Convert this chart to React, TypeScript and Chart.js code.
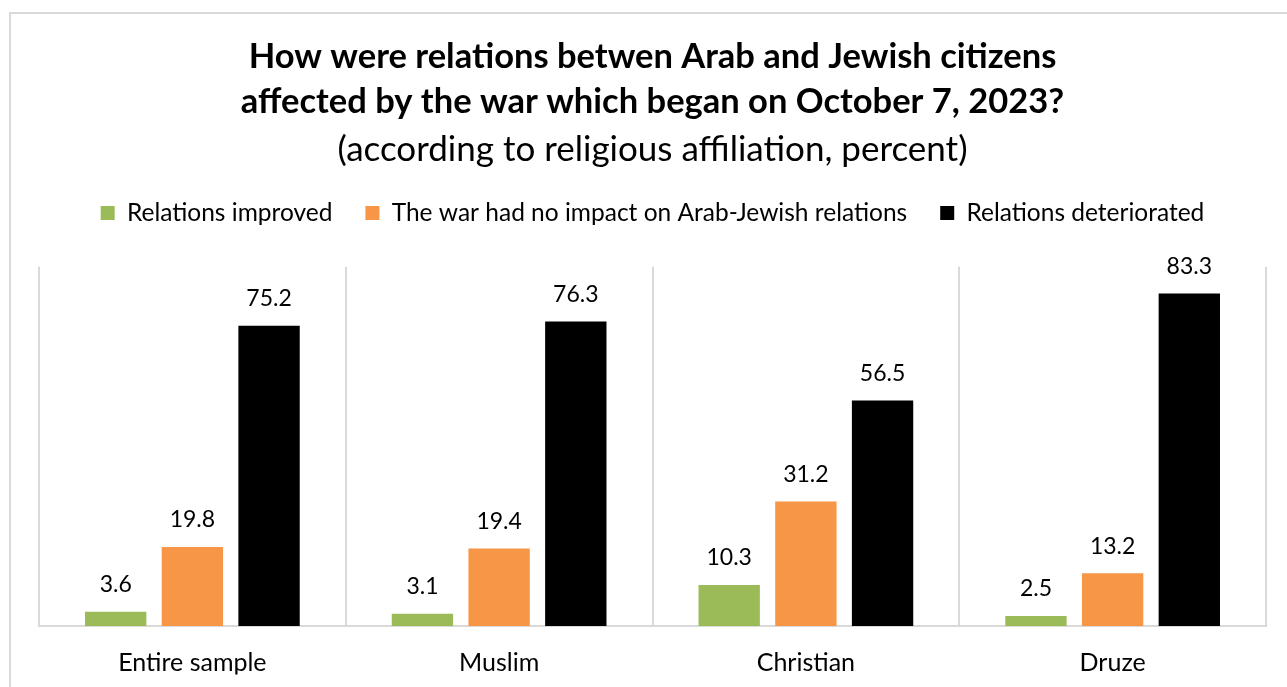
import React, { useEffect, useRef } from "react";
import { Chart, registerables } from "chart.js";

Chart.register(...registerables);

const categories = ["Entire sample", "Muslim", "Christian", "Druze"];
const seriesNames = [
  "Relations improved",
  "The war had no impact on Arab-Jewish relations",
  "Relations deteriorated",
];
const improved = [3.6, 3.1, 10.3, 2.5];
const noImpact = [19.8, 19.4, 31.2, 13.2];
const deteriorated = [75.2, 76.3, 56.5, 83.3];
const seriesColors = ["#9BBB59", "#F79646", "#000000"];

const titleLines = [
  "How were relations betwen Arab and Jewish citizens",
  "affected by the war which began on October 7, 2023?",
];
const subtitleText = "(according to religious affiliation, percent)";

const FONT = "Lato, 'Open Sans', sans-serif";

const dataLabelPlugin = {
  id: "dataLabels",
  afterDatasetsDraw(chart: any) {
    const ctx = chart.ctx;
    ctx.save();
    ctx.font = `23px ${FONT}`;
    ctx.fillStyle = "#000";
    ctx.textAlign = "center";
    ctx.textBaseline = "middle";
    chart.data.datasets.forEach((ds: any, i: number) => {
      const meta = chart.getDatasetMeta(i);
      meta.data.forEach((bar: any, j: number) => {
        ctx.fillText(ds.data[j].toFixed(1), bar.x, bar.y - 27);
      });
    });
    ctx.restore();
  },
};

export default function App() {
  const ref = useRef<HTMLCanvasElement>(null);
  useEffect(() => {
    document.body.style.margin = "0";
    const chart = new Chart(ref.current!, {
      type: "bar",
      data: {
        labels: categories,
        datasets: [improved, noImpact, deteriorated].map((d, i) => ({
          label: seriesNames[i],
          data: d,
          backgroundColor: seriesColors[i],
          borderWidth: 0,
          categoryPercentage: 0.75,
          barPercentage: 0.8,
        })),
      },
      options: {
        animation: false,
        responsive: false,
        layout: { padding: { left: 39, right: 21, top: 0, bottom: 12.6 } },
        plugins: {
          tooltip: { enabled: false },
          title: {
            display: true,
            text: titleLines,
            color: "#000",
            font: { family: FONT, size: 34.5, weight: "bold", lineHeight: 1.3 },
            padding: { top: 34.5, bottom: 0 },
          },
          subtitle: {
            display: true,
            text: subtitleText,
            color: "#000",
            font: { family: FONT, size: 35, lineHeight: 1.03 },
            padding: { top: 7.5, bottom: 0 },
          },
          legend: {
            display: true,
            position: "top",
            labels: {
              color: "#000",
              font: { family: FONT, size: 24.5 },
              boxWidth: 14,
              boxHeight: 14,
              padding: 33,
            },
          },
        },
        scales: {
          x: {
            grid: {
              display: true,
              offset: true,
              color: "#D9D9D9",
              lineWidth: 2,
              drawTicks: false,
            },
            border: { display: true, color: "#D9D9D9", width: 2 },
            ticks: {
              color: "#000",
              font: { family: FONT, size: 25 },
              padding: 22,
            },
            afterFit: (s: any) => {
              s.height = 48.4;
            },
          },
          xTop: {
            type: "category",
            position: "top",
            display: true,
            grid: { display: false },
            border: { display: false },
            ticks: { display: false },
            afterFit: (s: any) => {
              s.height = 31.5;
            },
          },
          y: {
            display: false,
            min: 0,
            max: 90,
          },
        },
      } as any,
      plugins: [dataLabelPlugin],
    });
    return () => chart.destroy();
  }, []);
  return (
    <div
      style={{
        position: "absolute",
        left: 0,
        top: 0,
        width: 1287,
        height: 687,
        overflow: "hidden",
        background: "#fff",
      }}
    >
      <div
        style={{
          position: "absolute",
          left: 9,
          top: 12,
          width: 1300,
          height: 700,
          border: "2px solid #D9D9D9",
          boxSizing: "border-box",
        }}
      />
      <canvas
        ref={ref}
        width={1287}
        height={687}
        style={{ position: "absolute", left: 0, top: 0 }}
      />
    </div>
  );
}
